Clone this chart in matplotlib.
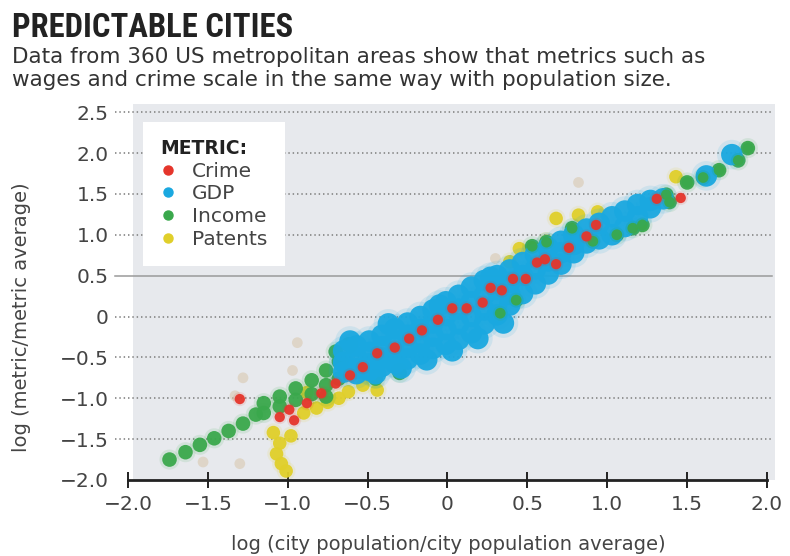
import matplotlib
matplotlib.use("Agg")
import matplotlib.pyplot as plt
from matplotlib import font_manager
from matplotlib.patches import Rectangle
from matplotlib.lines import Line2D

# values (log ratio to average)
crime_x = [-1.30, -1.05, -0.99, -0.96, -0.88, -0.79, -0.70, -0.61, -0.53, -0.44, -0.33, -0.24, -0.16,
           -0.06, 0.03, 0.12, 0.22, 0.27, 0.34, 0.41, 0.49, 0.56, 0.61, 0.68, 0.76, 0.87, 0.93, 1.31, 1.46]
crime_y = [-1.01, -1.23, -1.14, -1.27, -1.06, -0.94, -0.82, -0.72, -0.62, -0.45, -0.38, -0.27, -0.17,
           -0.04, 0.10, 0.10, 0.17, 0.35, 0.32, 0.46, 0.46, 0.66, 0.70, 0.64, 0.84, 0.98, 1.12, 1.44, 1.45]

gdp_x = [-0.65, -0.65, -0.65,
         -0.57, -0.57, -0.57, -0.57, -0.49, -0.49, -0.49, -0.49, -0.41, -0.41, -0.41, -0.41,
         -0.33, -0.33, -0.33, -0.33, -0.25, -0.25, -0.25, -0.25, -0.17, -0.17, -0.17, -0.17,
         -0.09, -0.09, -0.09, -0.09, -0.01, -0.01, -0.01, -0.01, 0.07, 0.07, 0.07, 0.07,
         0.15, 0.15, 0.15, 0.15, 0.23, 0.23, 0.23, 0.23, 0.31, 0.31, 0.31, 0.31,
         0.39, 0.39, 0.39, 0.39, 0.47, 0.47, 0.47, 0.55, 0.55, 0.55, 0.63, 0.63, 0.63,
         0.71, 0.71, 0.71, 0.79, 0.79, 0.79, 0.87, 0.87, 0.95, 0.95, 1.03, 1.03,
         1.11, 1.11, 1.19, 1.19, 1.27, 1.27, 1.35, 1.62, 1.78,
         -0.45, -0.29, -0.13, 0.03, 0.19, 0.35, -0.61, -0.37, -0.05, 0.27]
gdp_y = [-0.42, -0.56, -0.68,
         -0.36, -0.50, -0.64, -0.70, -0.30, -0.44, -0.58, -0.66, -0.23, -0.37, -0.51, -0.61,
         -0.15, -0.30, -0.45, -0.57, -0.08, -0.23, -0.38, -0.52, 0.00, -0.16, -0.32, -0.46,
         0.08, -0.08, -0.24, -0.39, 0.18, 0.01, -0.16, -0.34, 0.26, 0.09, -0.09, -0.28,
         0.36, 0.18, 0.00, -0.20, 0.44, 0.26, 0.08, -0.09, 0.50, 0.33, 0.16, 0.02,
         0.57, 0.42, 0.27, 0.14, 0.66, 0.50, 0.28, 0.76, 0.58, 0.40, 0.84, 0.68, 0.52,
         0.92, 0.78, 0.64, 1.00, 0.88, 0.78, 1.07, 0.90, 1.14, 0.95, 1.22, 1.00,
         1.29, 1.10, 1.37, 1.22, 1.42, 1.33, 1.44, 1.72, 1.98,
         -0.70, -0.63, -0.53, -0.42, -0.27, -0.08, -0.30, -0.09, 0.14, 0.48]

income_x = [-1.74, -1.64, -1.55, -1.46, -1.37, -1.28, -1.20, -1.15, -1.15, -1.05, -1.05, -0.95, -0.95,
            -0.85, -0.85, -0.76, -0.76, -0.76, -0.68, -0.68, -0.70, -0.62, -0.45, -0.30,
            0.33, 0.43, 0.53, 0.62, 0.78, 0.91, 1.06, 1.16, 1.22, 1.37, 1.39,
            1.50, 1.60, 1.70, 1.82, 1.88]
income_y = [-1.75, -1.66, -1.57, -1.49, -1.40, -1.31, -1.20, -1.06, -1.18, -0.98, -1.10, -0.88, -1.02,
            -0.78, -0.95, -0.66, -0.84, -0.98, -0.55, -0.76, -0.43, -0.34, -0.76, -0.69,
            0.04, 0.20, 0.86, 0.91, 1.08, 0.92, 1.00, 1.08, 1.12, 1.49, 1.40,
            1.64, 1.70, 1.79, 1.91, 2.06]

patents_x = [-1.09, -1.05, -1.07, -1.04, -1.01, -0.98, -0.90, -0.82, -0.75, -0.68, -0.62, -0.53, -0.44,
             -0.88, 0.39, 0.45, 0.62, 0.68, 0.82, 0.94, 1.43]
patents_y = [-1.42, -1.55, -1.68, -1.80, -1.89, -1.46, -1.18, -1.12, -1.05, -1.00, -0.92, -0.84, -0.90,
             -0.93, 0.67, 0.83, 0.92, 1.20, 1.24, 1.28, 1.71]

# faint outliers
faint_x = [-1.33, -0.94, -0.97, -1.28, -1.53, -1.30, 0.30, 0.82]
faint_y = [-0.97, -0.32, -0.66, -0.75, -1.78, -1.80, 0.71, 1.64]

x_ticks = [-2.0, -1.5, -1.0, -0.5, 0, 0.5, 1.0, 1.5, 2.0]
x_labels = ['\u22122.0', '\u22121.5', '\u22121.0', '\u22120.5', '0', '0.5', '1.0', '1.5', '2.0']
y_ticks = [-2.0, -1.5, -1.0, -0.5, 0, 0.5, 1.0, 1.5, 2.0, 2.5]
y_labels = ['\u22122.0', '\u22121.5', '\u22121.0', '\u22120.5', '0', '0.5', '1.0', '1.5', '2.0', '2.5']

c_crime = '#e5352b'
c_gdp = '#1aa8e0'
c_income = '#3aa84c'
c_patents = '#e0cf2a'

# narrow bold face for the headline, if one is around
names = {f.name for f in font_manager.fontManager.ttflist}
title_font = {'family': 'DejaVu Sans', 'stretch': 'condensed', 'size': 22}
for cand in ['Liberation Sans Narrow', 'Roboto Condensed', 'DejaVu Sans Condensed']:
    if cand in names:
        title_font = {'family': cand, 'size': 23.5}
        break
else:
    if not any(f.name == 'DejaVu Sans' and f.stretch == 'condensed' for f in font_manager.fontManager.ttflist):
        title_font = {'family': 'Roboto', 'size': 19}

fig = plt.figure(figsize=(7.9, 5.56), dpi=100)
ax = fig.add_axes([0.162, 0.1367, 0.819, 0.6763])
ax.set_xlim(-2.0, 2.05)
ax.set_ylim(-2.0, 2.6)

ax.add_patch(Rectangle((-1.97, -2.0), 4.02, 4.6, facecolor='#e7e9ed', edgecolor='none', zorder=0))

# grid lines (0.5 one is solid)
for yv in y_ticks[1:]:
    if yv == 0.5:
        ax.plot([-2.08, 2.03], [yv, yv], color='#9a9a9a', lw=1.1, zorder=1, clip_on=False)
    else:
        ax.plot([-2.08, 2.03], [yv, yv], color='#8c8c8c', lw=1.3, ls=(0, (0.8, 1.6)), zorder=1, clip_on=False)


def blob(x, y, color, s=110, z=2):
    # soft halo plus core to mimic the blurry dots
    ax.scatter(x, y, s=s * 1.9, color=color, alpha=0.12, edgecolors='none', zorder=z)
    ax.scatter(x, y, s=s, color=color, alpha=0.95, edgecolors='none', zorder=z + 0.1)


ax.scatter(faint_x, faint_y, s=60, color='#d9c9b0', alpha=0.6, edgecolors='none', zorder=2)
blob(patents_x, patents_y, c_patents, s=95, z=2)
blob(income_x, income_y, c_income, s=110, z=3)
blob(gdp_x, gdp_y, c_gdp, s=240, z=4)
blob(income_x[24:], income_y[24:], c_income, s=60, z=5)
blob(crime_x, crime_y, c_crime, s=55, z=6)

ax.set_xticks(x_ticks)
ax.set_xticklabels(x_labels)
ax.set_yticks(y_ticks)
ax.set_yticklabels(y_labels)
ax.tick_params(axis='x', direction='inout', length=11, width=1.4, colors='#222', labelsize=14.5,
               labelcolor='#444', pad=5)
ax.tick_params(axis='y', length=0, labelsize=14.5, labelcolor='#444', pad=14)
for side in ['left', 'top', 'right']:
    ax.spines[side].set_visible(False)
ax.spines['bottom'].set_bounds(-2.0, 2.0)
ax.spines['bottom'].set_linewidth(2)
ax.spines['bottom'].set_color('#222')
ax.set_facecolor('white')

handles = [Line2D([], [], ls='none', marker='o', markersize=6.5, color=c) for c in
           [c_crime, c_gdp, c_income, c_patents]]
leg = ax.legend(handles, ['Crime', 'GDP', 'Income', 'Patents'], loc='upper left',
                bbox_to_anchor=(0.023, 0.952), borderaxespad=0, frameon=True, fancybox=False,
                facecolor='white', edgecolor='none', framealpha=1, fontsize=14.5,
                title='METRIC:', title_fontproperties={'weight': 'bold', 'size': 13.5},
                alignment='left', handlelength=0.8, handletextpad=0.8, labelspacing=0.18,
                borderpad=0.85)
leg.set_zorder(10)
for t in leg.get_texts():
    t.set_color('#444')
leg.get_title().set_color('#222')

fig.text(12 / 790, 1 - 37 / 556, 'PREDICTABLE CITIES', fontweight='bold', color='#222',
         va='baseline', **title_font)
fig.text(12 / 790, 1 - 63 / 556, 'Data from 360 US metropolitan areas show that metrics such as',
         fontsize=15.5, color='#333', va='baseline')
fig.text(12 / 790, 1 - 86 / 556, 'wages and crime scale in the same way with population size.',
         fontsize=15.5, color='#333', va='baseline')
fig.text(448 / 790, 1 - 545 / 556, 'log (city population/city population average)', fontsize=14,
         color='#444', ha='center', va='center')
fig.text(22 / 790, 1 - 317 / 556, 'log (metric/metric average)', fontsize=14, color='#444',
         ha='center', va='center', rotation=90)

fig.savefig('out.png', dpi=100)
